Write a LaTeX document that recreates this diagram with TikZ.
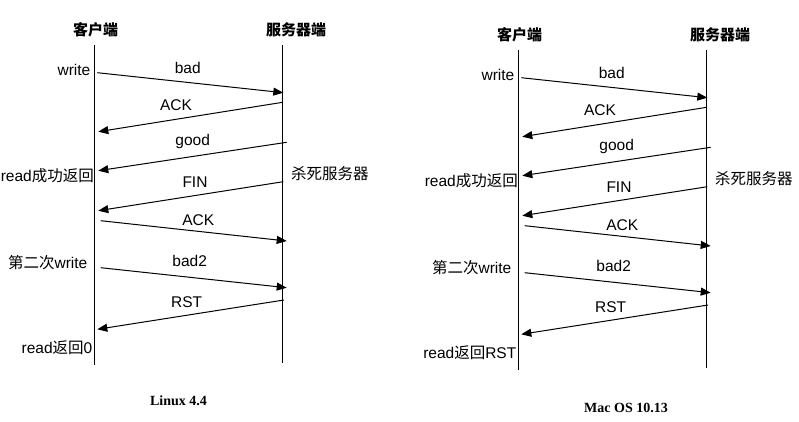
\documentclass[tikz,border=0pt]{standalone}
\usepackage{fontspec}
\setmainfont{Liberation Sans}
\newfontfamily\cjk{Noto Sans CJK SC}
\newfontfamily\capfont{Liberation Serif}
\usetikzlibrary{arrows.meta}

\begin{document}
\begin{tikzpicture}[
  x=1pt, y=-1pt,
  font=\fontsize{15.5}{18}\selectfont,
  >={Triangle[length=10pt,width=8pt]},
  life/.style={line width=1.1pt},
  msg/.style={->, line width=1pt},
  lbl/.style={inner sep=0pt},
  side/.style={inner sep=0pt, anchor=east},
  head/.style={inner sep=0pt, font=\fontsize{15}{18}\selectfont\cjk\bfseries},
  caption/.style={inner sep=0pt, font=\fontsize{14}{16}\selectfont\capfont\bfseries}
]
  \useasboundingbox (0,0) rectangle (799,422);
  % same exchange twice: Linux on the left, macOS on the right
  \foreach \dx/\dy/\pre/\last in {0/0/L/{read{\cjk 返回}0}, 424/5/M/{read{\cjk 返回}RST}} {
    \begin{scope}[shift={(\dx,\dy)}, name prefix=\pre-]
      % lifelines
      \node[head] (client) at (95.5,30) {客户端};
      \node[head] (server) at (296,30) {服务器端};
      \coordinate (client-top) at (94.3,45);
      \coordinate (client-bot) at (94.3,365);
      \coordinate (server-top) at (282.9,45);
      \coordinate (server-bot) at (282.9,363);
      \draw[life] (client-top) -- (client-bot);
      \draw[life] (server-top) -- (server-bot);
      % notes beside the lifelines
      \node[side] (write) at (90.5,70) {write};
      \node[side] (readok) at (94,176) {read{\cjk 成功返回}};
      \node[side] (write2) at (87.5,262.3) {{\cjk 第二次}write};
      \node[side] (readend) at (92.5,348) {\last};
      \node[inner sep=0pt, anchor=west] (kill) at (291,174) {\cjk 杀死服务器};
      % messages
      \coordinate (bad-s) at (97.3,72.7);
      \coordinate (bad-e) at (283.3,92.7);
      \coordinate (ack1-s) at (282.7,102.3);
      \coordinate (ack1-e) at (98.3,131.7);
      \coordinate (good-s) at (286.7,142.3);
      \coordinate (good-e) at (98.3,170.7);
      \coordinate (fin-s) at (283.3,181.7);
      \coordinate (fin-e) at (98.3,210.7);
      \coordinate (ack2-s) at (100.7,220.7);
      \coordinate (ack2-e) at (286.7,241);
      \coordinate (bad2-s) at (100.7,267.7);
      \coordinate (bad2-e) at (286.7,287.7);
      \coordinate (rst-s) at (284,300);
      \coordinate (rst-e) at (97.3,329.3);
      \draw[msg] (bad-s) -- (bad-e);
      \draw[msg] (ack1-s) -- (ack1-e);
      \draw[msg] (good-s) -- (good-e);
      \draw[msg] (fin-s) -- (fin-e);
      \draw[msg] (ack2-s) -- (ack2-e);
      \draw[msg] (bad2-s) -- (bad2-e);
      \draw[msg] (rst-s) -- (rst-e);
      \node[lbl] (bad) at (187.7,68.3) {bad};
      \node[lbl] (ack1) at (176,105) {ACK};
      \node[lbl] (good) at (192.7,141.7) {good};
      \node[lbl] (fin) at (195,182.3) {FIN};
      \node[lbl] (ack2) at (198.3,220) {ACK};
      \node[lbl] (bad2) at (189.7,261.3) {bad2};
      \node[lbl] (rst) at (186.7,302.3) {RST};
    \end{scope}
  }
  \node[caption] (linux) at (178.5,401) {Linux 4.4};
  \node[caption] (mac) at (626,408) {Mac OS 10.13};
\end{tikzpicture}
\end{document}
